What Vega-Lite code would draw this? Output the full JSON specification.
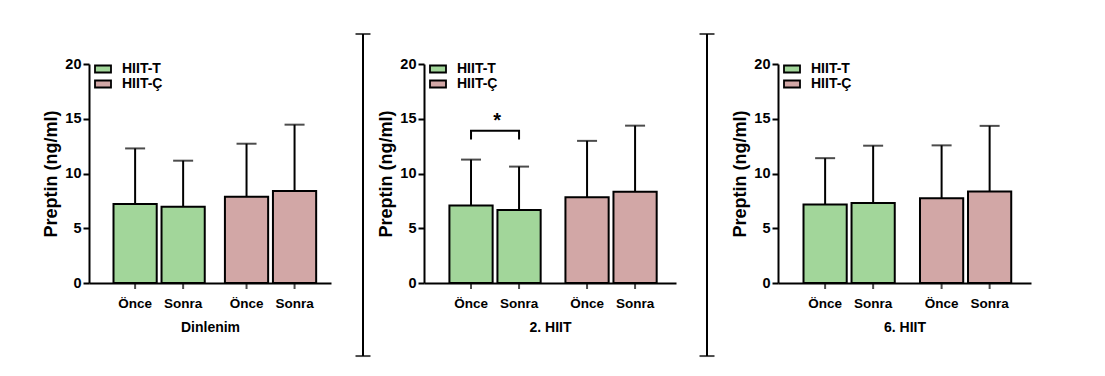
{
  "$schema": "https://vega.github.io/schema/vega-lite/v6.json",
  "background": "white",
  "padding": {"left": 42, "top": 32, "right": 5, "bottom": 5},
  "datasets": {
    "bars": [
      {"panel": "Dinlenim", "group": "HIIT-T", "time": "Önce", "mean": 7.21, "upper": 12.29},
      {"panel": "Dinlenim", "group": "HIIT-T", "time": "Sonra", "mean": 6.97, "upper": 11.17},
      {"panel": "Dinlenim", "group": "HIIT-Ç", "time": "Önce", "mean": 7.88, "upper": 12.72},
      {"panel": "Dinlenim", "group": "HIIT-Ç", "time": "Sonra", "mean": 8.40, "upper": 14.46},
      {"panel": "2. HIIT", "group": "HIIT-T", "time": "Önce", "mean": 7.08, "upper": 11.27},
      {"panel": "2. HIIT", "group": "HIIT-T", "time": "Sonra", "mean": 6.66, "upper": 10.63},
      {"panel": "2. HIIT", "group": "HIIT-Ç", "time": "Önce", "mean": 7.83, "upper": 12.98},
      {"panel": "2. HIIT", "group": "HIIT-Ç", "time": "Sonra", "mean": 8.34, "upper": 14.37},
      {"panel": "6. HIIT", "group": "HIIT-T", "time": "Önce", "mean": 7.16, "upper": 11.40},
      {"panel": "6. HIIT", "group": "HIIT-T", "time": "Sonra", "mean": 7.31, "upper": 12.54},
      {"panel": "6. HIIT", "group": "HIIT-Ç", "time": "Önce", "mean": 7.73, "upper": 12.57},
      {"panel": "6. HIIT", "group": "HIIT-Ç", "time": "Sonra", "mean": 8.36, "upper": 14.35}
    ],
    "bracket": [
      {"panel": "2. HIIT", "group": "HIIT-T", "time": "Önce", "y": 13.1, "seq": 1},
      {"panel": "2. HIIT", "group": "HIIT-T", "time": "Önce", "y": 13.9, "seq": 2},
      {"panel": "2. HIIT", "group": "HIIT-T", "time": "Sonra", "y": 13.9, "seq": 3},
      {"panel": "2. HIIT", "group": "HIIT-T", "time": "Sonra", "y": 13.1, "seq": 4}
    ],
    "star": [
      {"panel": "2. HIIT", "group": "HIIT-T", "y": 14.25, "label": "*"}
    ]
  },
  "hconcat": [
    {
      "width": 242, "height": 219,
      "encoding": {
        "x": {"field": "group", "type": "nominal", "sort": ["HIIT-T", "HIIT-Ç"],
              "scale": {"domain": ["HIIT-T", "HIIT-Ç"], "paddingInner": 0.138, "paddingOuter": 0.155, "align": 0.64},
              "axis": {"title": "Dinlenim", "labels": false, "ticks": false, "titlePadding": 37, "titleFontSize": 14}}
      },
      "layer": [
        {"data": {"name": "bars"}, "transform": [{"filter": "datum.panel === 'Dinlenim'"}],
         "mark": {"type": "tick", "orient": "vertical", "color": "black", "thickness": 2, "size": 12},
         "encoding": {"xOffset": {"field": "time", "type": "nominal", "sort": ["Önce", "Sonra"], "scale": {"paddingInner": 0.1, "paddingOuter": 0.05}},
                      "y": {"datum": 0, "type": "quantitative", "scale": {"domain": [0, 20], "nice": false}}}},
        {"data": {"name": "bars"}, "transform": [{"filter": "datum.panel === 'Dinlenim'"}],
         "mark": {"type": "rule", "color": "black", "strokeWidth": 2},
         "encoding": {"xOffset": {"field": "time", "type": "nominal", "sort": ["Önce", "Sonra"]},
                      "y": {"field": "mean", "type": "quantitative", "scale": {"domain": [0, 20], "nice": false}}, "y2": {"field": "upper"}}},
        {"data": {"name": "bars"}, "transform": [{"filter": "datum.panel === 'Dinlenim'"}],
         "mark": {"type": "tick", "color": "black", "thickness": 2, "size": 20},
         "encoding": {"xOffset": {"field": "time", "type": "nominal", "sort": ["Önce", "Sonra"]},
                      "y": {"field": "upper", "type": "quantitative", "scale": {"domain": [0, 20], "nice": false}}}},
        {"data": {"name": "bars"}, "transform": [{"filter": "datum.panel === 'Dinlenim'"}],
         "mark": {"type": "bar", "stroke": "black", "strokeWidth": 2},
         "encoding": {"xOffset": {"field": "time", "type": "nominal", "sort": ["Önce", "Sonra"]},
                      "y": {"field": "mean", "type": "quantitative", "scale": {"domain": [0, 20], "nice": false},
                            "axis": {"title": "Preptin (ng/ml)", "values": [0, 5, 10, 15, 20], "tickSize": 6, "labelFontSize": 14.5, "titleFontSize": 18, "titlePadding": 4, "labelPadding": 2}},
                      "fill": {"field": "group", "type": "nominal", "scale": {"domain": ["HIIT-T", "HIIT-Ç"], "range": ["#a2d69a", "#d2a7a6"]},
                               "legend": {"title": null, "orient": "none", "legendX": 7, "legendY": -2}}}},
        {"data": {"name": "bars"}, "transform": [{"filter": "datum.panel === 'Dinlenim'"}],
         "mark": {"type": "text", "baseline": "alphabetic", "dy": 25, "fontSize": 13.5, "fontWeight": "bold", "color": "black"},
         "encoding": {"xOffset": {"field": "time", "type": "nominal", "sort": ["Önce", "Sonra"]},
                      "y": {"datum": 0, "type": "quantitative", "scale": {"domain": [0, 20], "nice": false}},
                      "text": {"field": "time"}}}
      ]
    },
    {
      "width": 93, "height": 219,
      "data": {"values": [{}]},
      "layer": [
        {"mark": {"type": "rule", "color": "black", "strokeWidth": 2, "xOffset": -14.5},
         "encoding": {"y": {"datum": 22.74, "type": "quantitative", "scale": {"domain": [0, 20], "nice": false}, "axis": null}, "y2": {"datum": -6.67}}},
        {"mark": {"type": "tick", "color": "black", "thickness": 2, "size": 15, "xOffset": -14.5},
         "encoding": {"y": {"datum": 22.74, "type": "quantitative", "scale": {"domain": [0, 20], "nice": false}, "axis": null}}},
        {"mark": {"type": "tick", "color": "black", "thickness": 2, "size": 15, "xOffset": -14.5},
         "encoding": {"y": {"datum": -6.67, "type": "quantitative", "scale": {"domain": [0, 20], "nice": false}, "axis": null}}}
      ]
    },
    {
      "width": 252, "height": 219,
      "encoding": {
        "x": {"field": "group", "type": "nominal", "sort": ["HIIT-T", "HIIT-Ç"],
              "scale": {"domain": ["HIIT-T", "HIIT-Ç"], "paddingInner": 0.138, "paddingOuter": 0.155, "align": 0.64},
              "axis": {"title": "2. HIIT", "labels": false, "ticks": false, "titlePadding": 37, "titleFontSize": 14}}
      },
      "layer": [
        {"data": {"name": "bars"}, "transform": [{"filter": "datum.panel === '2. HIIT'"}],
         "mark": {"type": "tick", "orient": "vertical", "color": "black", "thickness": 2, "size": 12},
         "encoding": {"xOffset": {"field": "time", "type": "nominal", "sort": ["Önce", "Sonra"], "scale": {"paddingInner": 0.1, "paddingOuter": 0.05}},
                      "y": {"datum": 0, "type": "quantitative", "scale": {"domain": [0, 20], "nice": false}}}},
        {"data": {"name": "bars"}, "transform": [{"filter": "datum.panel === '2. HIIT'"}],
         "mark": {"type": "rule", "color": "black", "strokeWidth": 2},
         "encoding": {"xOffset": {"field": "time", "type": "nominal", "sort": ["Önce", "Sonra"]},
                      "y": {"field": "mean", "type": "quantitative", "scale": {"domain": [0, 20], "nice": false}}, "y2": {"field": "upper"}}},
        {"data": {"name": "bars"}, "transform": [{"filter": "datum.panel === '2. HIIT'"}],
         "mark": {"type": "tick", "color": "black", "thickness": 2, "size": 20},
         "encoding": {"xOffset": {"field": "time", "type": "nominal", "sort": ["Önce", "Sonra"]},
                      "y": {"field": "upper", "type": "quantitative", "scale": {"domain": [0, 20], "nice": false}}}},
        {"data": {"name": "bars"}, "transform": [{"filter": "datum.panel === '2. HIIT'"}],
         "mark": {"type": "bar", "stroke": "black", "strokeWidth": 2},
         "encoding": {"xOffset": {"field": "time", "type": "nominal", "sort": ["Önce", "Sonra"]},
                      "y": {"field": "mean", "type": "quantitative", "scale": {"domain": [0, 20], "nice": false},
                            "axis": {"title": "Preptin (ng/ml)", "values": [0, 5, 10, 15, 20], "tickSize": 6, "labelFontSize": 14.5, "titleFontSize": 18, "titlePadding": 4, "labelPadding": 2}},
                      "fill": {"field": "group", "type": "nominal", "scale": {"domain": ["HIIT-T", "HIIT-Ç"], "range": ["#a2d69a", "#d2a7a6"]},
                               "legend": {"title": null, "orient": "none", "legendX": 7, "legendY": -2}}}},
        {"data": {"name": "bars"}, "transform": [{"filter": "datum.panel === '2. HIIT'"}],
         "mark": {"type": "text", "baseline": "alphabetic", "dy": 25, "fontSize": 13.5, "fontWeight": "bold", "color": "black"},
         "encoding": {"xOffset": {"field": "time", "type": "nominal", "sort": ["Önce", "Sonra"]},
                      "y": {"datum": 0, "type": "quantitative", "scale": {"domain": [0, 20], "nice": false}},
                      "text": {"field": "time"}}},
        {"data": {"name": "bracket"},
         "mark": {"type": "line", "color": "black", "strokeWidth": 2},
         "encoding": {"xOffset": {"field": "time", "type": "nominal", "sort": ["Önce", "Sonra"]},
                      "y": {"field": "y", "type": "quantitative", "scale": {"domain": [0, 20], "nice": false}},
                      "order": {"field": "seq"}}},
        {"data": {"name": "star"},
         "mark": {"type": "text", "baseline": "alphabetic", "fontSize": 20, "fontWeight": "bold", "color": "black"},
         "encoding": {"y": {"field": "y", "type": "quantitative", "scale": {"domain": [0, 20], "nice": false}},
                      "text": {"field": "label"}}}
      ]
    },
    {
      "width": 102, "height": 219,
      "data": {"values": [{}]},
      "layer": [
        {"mark": {"type": "rule", "color": "black", "strokeWidth": 2, "xOffset": -20},
         "encoding": {"y": {"datum": 22.74, "type": "quantitative", "scale": {"domain": [0, 20], "nice": false}, "axis": null}, "y2": {"datum": -6.67}}},
        {"mark": {"type": "tick", "color": "black", "thickness": 2, "size": 15, "xOffset": -20},
         "encoding": {"y": {"datum": 22.74, "type": "quantitative", "scale": {"domain": [0, 20], "nice": false}, "axis": null}}},
        {"mark": {"type": "tick", "color": "black", "thickness": 2, "size": 15, "xOffset": -20},
         "encoding": {"y": {"datum": -6.67, "type": "quantitative", "scale": {"domain": [0, 20], "nice": false}, "axis": null}}}
      ]
    },
    {
      "width": 253, "height": 219,
      "encoding": {
        "x": {"field": "group", "type": "nominal", "sort": ["HIIT-T", "HIIT-Ç"],
              "scale": {"domain": ["HIIT-T", "HIIT-Ç"], "paddingInner": 0.138, "paddingOuter": 0.155, "align": 0.64},
              "axis": {"title": "6. HIIT", "labels": false, "ticks": false, "titlePadding": 37, "titleFontSize": 14}}
      },
      "layer": [
        {"data": {"name": "bars"}, "transform": [{"filter": "datum.panel === '6. HIIT'"}],
         "mark": {"type": "tick", "orient": "vertical", "color": "black", "thickness": 2, "size": 12},
         "encoding": {"xOffset": {"field": "time", "type": "nominal", "sort": ["Önce", "Sonra"], "scale": {"paddingInner": 0.1, "paddingOuter": 0.05}},
                      "y": {"datum": 0, "type": "quantitative", "scale": {"domain": [0, 20], "nice": false}}}},
        {"data": {"name": "bars"}, "transform": [{"filter": "datum.panel === '6. HIIT'"}],
         "mark": {"type": "rule", "color": "black", "strokeWidth": 2},
         "encoding": {"xOffset": {"field": "time", "type": "nominal", "sort": ["Önce", "Sonra"]},
                      "y": {"field": "mean", "type": "quantitative", "scale": {"domain": [0, 20], "nice": false}}, "y2": {"field": "upper"}}},
        {"data": {"name": "bars"}, "transform": [{"filter": "datum.panel === '6. HIIT'"}],
         "mark": {"type": "tick", "color": "black", "thickness": 2, "size": 20},
         "encoding": {"xOffset": {"field": "time", "type": "nominal", "sort": ["Önce", "Sonra"]},
                      "y": {"field": "upper", "type": "quantitative", "scale": {"domain": [0, 20], "nice": false}}}},
        {"data": {"name": "bars"}, "transform": [{"filter": "datum.panel === '6. HIIT'"}],
         "mark": {"type": "bar", "stroke": "black", "strokeWidth": 2},
         "encoding": {"xOffset": {"field": "time", "type": "nominal", "sort": ["Önce", "Sonra"]},
                      "y": {"field": "mean", "type": "quantitative", "scale": {"domain": [0, 20], "nice": false},
                            "axis": {"title": "Preptin (ng/ml)", "values": [0, 5, 10, 15, 20], "tickSize": 6, "labelFontSize": 14.5, "titleFontSize": 18, "titlePadding": 4, "labelPadding": 2}},
                      "fill": {"field": "group", "type": "nominal", "scale": {"domain": ["HIIT-T", "HIIT-Ç"], "range": ["#a2d69a", "#d2a7a6"]},
                               "legend": {"title": null, "orient": "none", "legendX": 7, "legendY": -2}}}},
        {"data": {"name": "bars"}, "transform": [{"filter": "datum.panel === '6. HIIT'"}],
         "mark": {"type": "text", "baseline": "alphabetic", "dy": 25, "fontSize": 13.5, "fontWeight": "bold", "color": "black"},
         "encoding": {"xOffset": {"field": "time", "type": "nominal", "sort": ["Önce", "Sonra"]},
                      "y": {"datum": 0, "type": "quantitative", "scale": {"domain": [0, 20], "nice": false}},
                      "text": {"field": "time"}}}
      ]
    }
  ],
  "spacing": 0,
  "bounds": "flush",
  "resolve": {"scale": {"fill": "independent"}},
  "config": {
    "font": "Liberation Sans",
    "view": {"stroke": null},
    "axis": {"domainColor": "black", "domainWidth": 2, "tickColor": "black", "tickWidth": 2, "labelColor": "black", "titleColor": "black", "labelFontWeight": "bold", "titleFontWeight": "bold", "grid": false},
    "legend": {"symbolType": "M-1.6,-0.7H1.6V0.7H-1.6Z", "symbolSize": 100, "symbolStrokeColor": "black", "symbolStrokeWidth": 1.8, "labelFontSize": 14, "labelFontWeight": "bold", "labelColor": "black", "labelOffset": 12, "rowPadding": -4, "padding": 0, "symbolOpacity": 1}
  }
}
